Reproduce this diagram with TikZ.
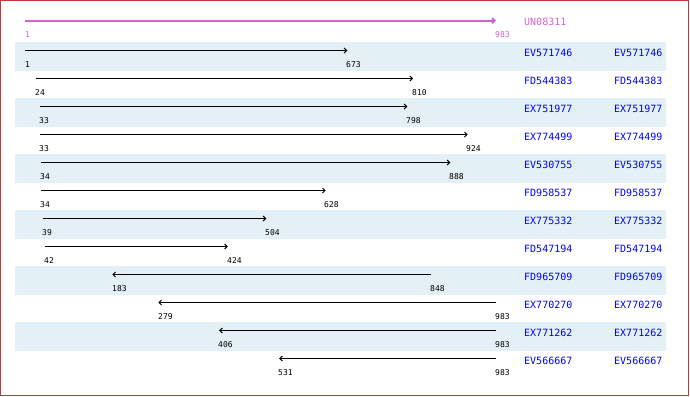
\documentclass[tikz,border=0pt]{standalone}
\usepackage{fontspec}
\setmonofont{DejaVu Sans Mono}
\usetikzlibrary{arrows.meta}

\begin{document}
\begin{tikzpicture}[x=1pt,y=-1pt,font=\ttfamily]
  \definecolor{frame}{HTML}{C03838}
  \definecolor{stripe}{HTML}{E3F0F5}
  \definecolor{query}{HTML}{CC66CC}
  \definecolor{hit}{HTML}{0000FF}
  \path[use as bounding box] (0,0) rectangle (690,396);
  \draw[frame,line width=1pt] (0.5,0.5) rectangle (688.5,395.5);

  % Every other hit row sits on a pale stripe.
  \fill[stripe] (15,42) rectangle (666,70.7);
  \fill[stripe] (15,98) rectangle (666,126.7);
  \fill[stripe] (15,154) rectangle (666,182.7);
  \fill[stripe] (15,210) rectangle (666,238.7);
  \fill[stripe] (15,266) rectangle (666,294.7);
  \fill[stripe] (15,322) rectangle (666,350.7);

  \tikzset{read/.style={line width=1pt,-{Straight Barb[length=2.5pt,width=5pt]}},
           endnum/.style={font=\ttfamily\fontsize{8}{9}\selectfont,anchor=west,inner sep=0pt},
           acc/.style={font=\ttfamily\fontsize{10}{12}\selectfont,text=hit,anchor=west,inner sep=0pt}}

  % query sequence, 1..983 spans x = 25..496
  \coordinate (q0s) at (25,20.7);
  \coordinate (q0e) at (496,20.7);
  \draw[read,query,line width=2pt] (q0s) -- (q0e);
  \node[endnum,text=query] (q0lo) at (25,34.2) {1};
  \node[endnum,text=query] (q0hi) at (495,34.2) {983};
  \node[acc,text=query] (q0id) at (524,22.2) {UN08311};

  \coordinate (r1s) at (25,50.5);
  \coordinate (r1e) at (347.3,50.5);
  \draw[read] (r1s) -- (r1e);
  \node[endnum] (r1lo) at (25,64.5) {1};
  \node[endnum] (r1hi) at (346,64.5) {673};
  \node[acc] (r1id) at (524,52.5) {EV571746};
  \node[acc] (r1hit) at (614,52.5) {EV571746};

  \coordinate (r2s) at (36,78.5);
  \coordinate (r2e) at (413,78.5);
  \draw[read] (r2s) -- (r2e);
  \node[endnum] (r2lo) at (35,92.5) {24};
  \node[endnum] (r2hi) at (412,92.5) {810};
  \node[acc] (r2id) at (524,80.5) {FD544383};
  \node[acc] (r2hit) at (614,80.5) {FD544383};

  \coordinate (r3s) at (40.3,106.5);
  \coordinate (r3e) at (407.3,106.5);
  \draw[read] (r3s) -- (r3e);
  \node[endnum] (r3lo) at (39,120.5) {33};
  \node[endnum] (r3hi) at (406,120.5) {798};
  \node[acc] (r3id) at (524,108.5) {EX751977};
  \node[acc] (r3hit) at (614,108.5) {EX751977};

  \coordinate (r4s) at (40.3,134.5);
  \coordinate (r4e) at (467.7,134.5);
  \draw[read] (r4s) -- (r4e);
  \node[endnum] (r4lo) at (39,148.5) {33};
  \node[endnum] (r4hi) at (466,148.5) {924};
  \node[acc] (r4id) at (524,136.5) {EX774499};
  \node[acc] (r4hit) at (614,136.5) {EX774499};

  \coordinate (r5s) at (40.8,162.5);
  \coordinate (r5e) at (450.4,162.5);
  \draw[read] (r5s) -- (r5e);
  \node[endnum] (r5lo) at (40,176.5) {34};
  \node[endnum] (r5hi) at (449,176.5) {888};
  \node[acc] (r5id) at (524,164.5) {EV530755};
  \node[acc] (r5hit) at (614,164.5) {EV530755};

  \coordinate (r6s) at (40.8,190.5);
  \coordinate (r6e) at (325.7,190.5);
  \draw[read] (r6s) -- (r6e);
  \node[endnum] (r6lo) at (40,204.5) {34};
  \node[endnum] (r6hi) at (324,204.5) {628};
  \node[acc] (r6id) at (524,192.5) {FD958537};
  \node[acc] (r6hit) at (614,192.5) {FD958537};

  \coordinate (r7s) at (43.2,218.5);
  \coordinate (r7e) at (266.3,218.5);
  \draw[read] (r7s) -- (r7e);
  \node[endnum] (r7lo) at (42,232.5) {39};
  \node[endnum] (r7hi) at (265,232.5) {504};
  \node[acc] (r7id) at (524,220.5) {EX775332};
  \node[acc] (r7hit) at (614,220.5) {EX775332};

  \coordinate (r8s) at (44.7,246.5);
  \coordinate (r8e) at (227.9,246.5);
  \draw[read] (r8s) -- (r8e);
  \node[endnum] (r8lo) at (44,260.5) {42};
  \node[endnum] (r8hi) at (227,260.5) {424};
  \node[acc] (r8id) at (524,248.5) {FD547194};
  \node[acc] (r8hit) at (614,248.5) {FD547194};

  % reverse strand hits point back to the left
  \coordinate (r9s) at (431.3,274.5);
  \coordinate (r9e) at (112.3,274.5);
  \draw[read] (r9s) -- (r9e);
  \node[endnum] (r9lo) at (112,288.5) {183};
  \node[endnum] (r9hi) at (430,288.5) {848};
  \node[acc] (r9id) at (524,276.5) {FD965709};
  \node[acc] (r9hit) at (614,276.5) {FD965709};

  \coordinate (r10s) at (496,302.5);
  \coordinate (r10e) at (158.3,302.5);
  \draw[read] (r10s) -- (r10e);
  \node[endnum] (r10lo) at (158,316.5) {279};
  \node[endnum] (r10hi) at (495,316.5) {983};
  \node[acc] (r10id) at (524,304.5) {EX770270};
  \node[acc] (r10hit) at (614,304.5) {EX770270};

  \coordinate (r11s) at (496,330.5);
  \coordinate (r11e) at (219.2,330.5);
  \draw[read] (r11s) -- (r11e);
  \node[endnum] (r11lo) at (218,344.5) {406};
  \node[endnum] (r11hi) at (495,344.5) {983};
  \node[acc] (r11id) at (524,332.5) {EX771262};
  \node[acc] (r11hit) at (614,332.5) {EX771262};

  \coordinate (r12s) at (496,358.5);
  \coordinate (r12e) at (279.2,358.5);
  \draw[read] (r12s) -- (r12e);
  \node[endnum] (r12lo) at (278,372.5) {531};
  \node[endnum] (r12hi) at (495,372.5) {983};
  \node[acc] (r12id) at (524,360.5) {EV566667};
  \node[acc] (r12hit) at (614,360.5) {EV566667};
\end{tikzpicture}
\end{document}
